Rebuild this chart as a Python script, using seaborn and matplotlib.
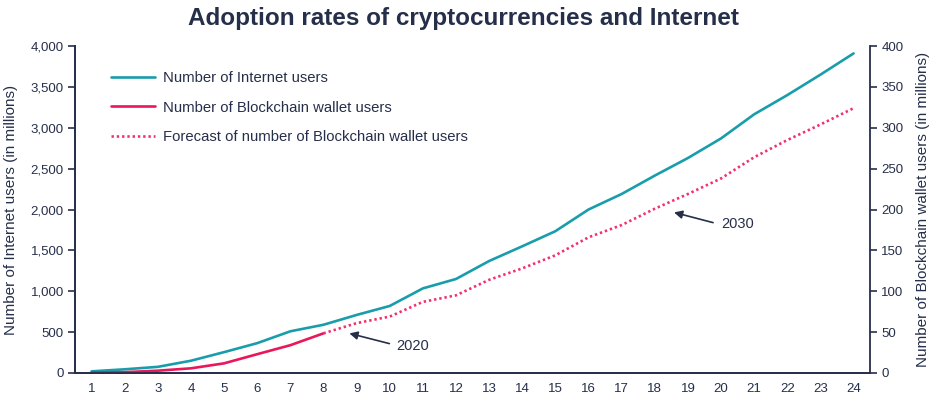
import numpy as np
import pandas as pd
import seaborn as sns
import matplotlib.pyplot as plt
from matplotlib.ticker import FuncFormatter, MultipleLocator

periods = list(range(1, 25))
internet_users = [20, 45, 75, 150, 255, 365, 510, 590, 710, 820, 1035, 1150,
                  1370, 1550, 1735, 2000, 2190, 2415, 2630, 2870, 3165, 3400, 3650, 3910]
wallet_actual = [0.5, 1, 2.8, 5.7, 11.8, 23, 34, 48.5]
wallet_forecast = [48.5, 61, 69, 87, 95, 114, 128, 144, 166, 181, 201, 219,
                   238, 264, 285, 304, 324]

navy = '#262f4a'
teal = '#1a9dab'
red = '#e8185a'
pink = '#f2306e'

sns.set_theme(style='white')
plt.rcParams['font.family'] = ['Liberation Sans', 'DejaVu Sans']
plt.rcParams['text.color'] = navy
plt.rcParams['axes.labelcolor'] = navy
plt.rcParams['xtick.color'] = navy
plt.rcParams['ytick.color'] = navy

df_net = pd.DataFrame({'period': periods, 'users': internet_users})
df_act = pd.DataFrame({'period': periods[:8], 'users': wallet_actual})
df_fc = pd.DataFrame({'period': periods[7:], 'users': wallet_forecast})

fig = plt.figure(figsize=(9.41, 3.97), dpi=100)
ax = fig.add_axes([0.0797, 0.0605, 0.845, 0.8235])
ax2 = ax.twinx()

sns.lineplot(data=df_net, x='period', y='users', ax=ax, color=teal, linewidth=1.9,
             label='Number of Internet users', legend=False)
sns.lineplot(data=df_act, x='period', y='users', ax=ax2, color=red, linewidth=1.9,
             label='Number of Blockchain wallet users', legend=False)
sns.lineplot(data=df_fc, x='period', y='users', ax=ax2, color=pink, linewidth=1.9,
             linestyle=(0, (0.9, 1.1)), label='Forecast of number of Blockchain wallet users',
             legend=False)

ax.set_xlim(0.5, 24.5)
ax.set_ylim(0, 4000)
ax2.set_ylim(0, 400)
ax.yaxis.set_major_locator(MultipleLocator(500))
ax2.yaxis.set_major_locator(MultipleLocator(50))
ax.yaxis.set_major_formatter(FuncFormatter(lambda v, p: f'{int(v):,}'))

ax.set_xticks(periods)
ax.set_xticks(np.arange(0.5, 25, 1), minor=True)
ax.tick_params(axis='x', which='major', length=0, labelsize=9.5, pad=7)
ax.tick_params(axis='x', which='minor', length=7, width=1.2, color=navy, direction='out')
ax.tick_params(axis='y', length=5, width=1.2, color=navy, labelsize=9.5, left=True, pad=3)
ax2.tick_params(axis='y', length=5, width=1.2, color=navy, labelsize=9.5, right=True, pad=3)

for a in (ax, ax2):
    for s in a.spines.values():
        s.set_color(navy)
        s.set_linewidth(1.3)
    a.spines['top'].set_visible(False)
ax.spines['right'].set_visible(False)

ax.set_xlabel('')
ax.set_ylabel('Number of Internet users (in millions)', fontsize=11, labelpad=9)
ax2.set_ylabel('Number of Blockchain wallet users (in millions)', fontsize=11, labelpad=9)

fig.suptitle('Adoption rates of cryptocurrencies and Internet', x=0.493, y=0.982,
             fontsize=17.5, fontweight='bold', color=navy)

h1, l1 = ax.get_legend_handles_labels()
h2, l2 = ax2.get_legend_handles_labels()
ax.legend(h1 + h2, l1 + l2, loc='upper left', bbox_to_anchor=(0.029, 0.965), frameon=False,
          fontsize=10.75, handlelength=2.9, handletextpad=0.55, labelspacing=1.05)

arrow = dict(arrowstyle='-|>', color=navy, lw=1.2, mutation_scale=12)
ax.annotate('', xy=(8.7, 493), xytext=(10.07, 351), arrowprops=arrow)
ax.text(10.2, 330, '2020', fontsize=10.5, va='center', ha='left')
ax.annotate('', xy=(18.5, 1973), xytext=(19.84, 1831), arrowprops=arrow)
ax.text(20.0, 1817, '2030', fontsize=10.5, va='center', ha='left')

fig.savefig('out.png', dpi=100)
